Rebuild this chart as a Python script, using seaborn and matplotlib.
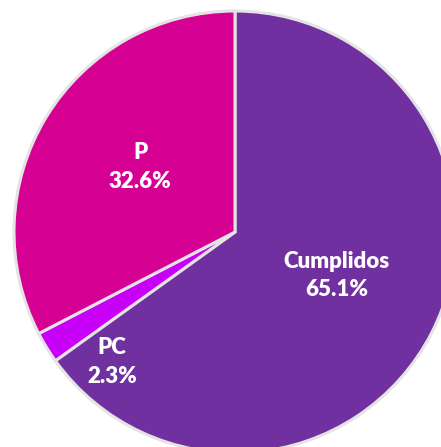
import numpy as np
import matplotlib
matplotlib.use("Agg")
import matplotlib.pyplot as plt
import seaborn as sns

sns.set_theme(style="white")
plt.rcParams['font.family'] = ['Lato', 'DejaVu Sans']

# datos del grafico
categorias = ["Cumplidos", "PC", "P"]
porcentajes = [65.1, 2.3, 32.6]
colores = ["#7030A0", "#C800F8", "#D60093"]

# ajuste de posicion de las etiquetas (distancia radial, giro en grados)
lab_dist = [0.50, 0.81, 0.52]
lab_giro = [4, 15, -3]

fig = plt.figure(figsize=(4.41, 4.47), dpi=100)
# el circulo es mas grande que la imagen, queda recortado a la derecha y abajo
ax = fig.add_axes([(235 - 221) / 441, (447 - 232 - 221) / 447, 442 / 441, 442 / 447])

wedges, _ = ax.pie(porcentajes, colors=colores, startangle=90, counterclock=False,
                   radius=1.0,
                   wedgeprops=dict(edgecolor="#E4E4E4", linewidth=2.2))

for w, cat, p, d, g in zip(wedges, categorias, porcentajes, lab_dist, lab_giro):
    ang = np.deg2rad((w.theta1 + w.theta2) / 2 + g)
    ax.text(d * np.cos(ang), d * np.sin(ang), f"{cat}\n{p:.1f}%",
            ha="center", va="center", color="white", fontsize=16,
            fontweight="heavy", linespacing=1.45)

ax.set_xlim(-1, 1)
ax.set_ylim(-1, 1)
ax.set_aspect("equal")
ax.axis("off")

fig.savefig("out.png", dpi=100)
